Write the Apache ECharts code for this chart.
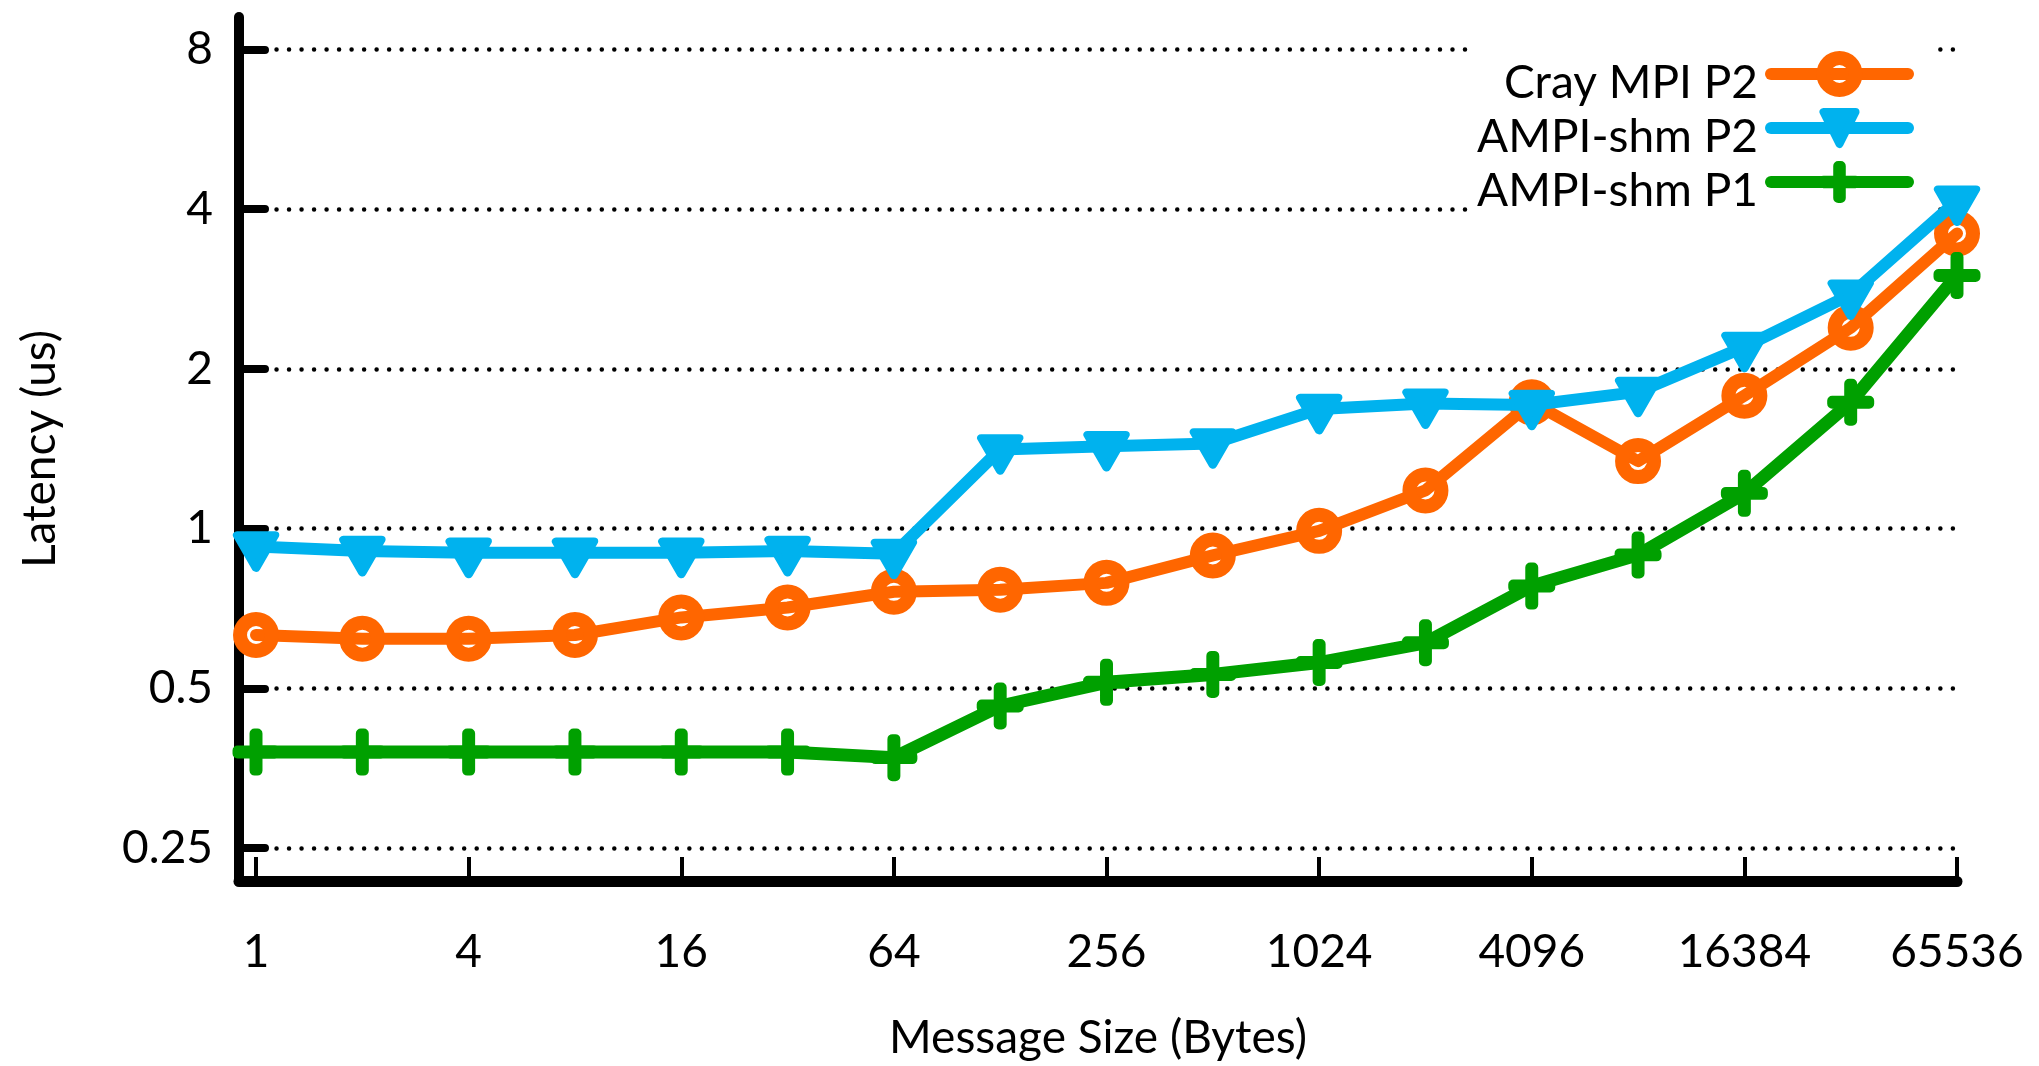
<!DOCTYPE html>
<html>
<head>
<meta charset="utf-8">
<script src="https://cdn.jsdelivr.net/npm/echarts@6/dist/echarts.min.js"></script>
<style>
  html, body { margin: 0; padding: 0; background: #ffffff; }
  #chart { width: 2039px; height: 1066px; }
</style>
</head>
<body>
<div id="chart"></div>
<script>
// Message sizes in bytes (powers of two)
const messageSizes = [1, 2, 4, 8, 16, 32, 64, 128, 256, 512, 1024, 2048, 4096, 8192, 16384, 32768, 65536];

// One-way latency in microseconds
const crayMpiP2 = [0.63, 0.62, 0.62, 0.63, 0.68, 0.71, 0.76, 0.767, 0.79, 0.89, 0.99, 1.18, 1.73, 1.34, 1.78, 2.39, 3.6];
const ampiShmP2 = [0.925, 0.907, 0.90, 0.90, 0.90, 0.907, 0.896, 1.41, 1.43, 1.447, 1.68, 1.72, 1.71, 1.81, 2.2, 2.76, 4.15];
const ampiShmP1 = [0.379, 0.379, 0.379, 0.379, 0.379, 0.379, 0.370, 0.463, 0.513, 0.531, 0.559, 0.609, 0.779, 0.892, 1.165, 1.73, 3.0];

const seriesNames = ['Cray MPI P2', 'AMPI-shm P2', 'AMPI-shm P1'];

// Axis tick positions
const xTickValues = [1, 4, 16, 64, 256, 1024, 4096, 16384, 65536];
const yTickValues = [0.25, 0.5, 1, 2, 4, 8];

const FONT = 'Lato';
const FONT_SIZE = 46;
const ORANGE = '#ff6600';
const BLUE = '#00b2ee';
const GREEN = '#00a000';

const pairs = (ys) => messageSizes.map((x, i) => [x, ys[i]]);

// Plus sign with thin arms; the rounded border gives it its stroke weight
const PLUS = 'path://M4.6,0H5.4V4.6H10V5.4H5.4V10H4.6V5.4H0V4.6H4.6Z';

const chart = echarts.init(document.getElementById('chart'), null, { renderer: 'canvas' });

chart.setOption({
  animation: false,
  backgroundColor: '#ffffff',
  textStyle: { fontFamily: FONT },
  grid: { left: 239, right: 82, top: 17, bottom: 182, containLabel: false },
  legend: {
    orient: 'vertical',
    align: 'right',
    right: 109,
    top: 29,
    padding: [18, 16, 0, 8],
    itemWidth: 137,
    itemHeight: 40,
    itemGap: -5,
    backgroundColor: '#ffffff',
    selectedMode: false,
    z: 1,
    lineStyle: { width: 12, cap: 'round' },
    // a thin spacer line above each name sits the text a little below its key line
    formatter: (name) => '{gap| }\n{txt|' + name + '}',
    textStyle: {
      fontFamily: FONT, fontSize: FONT_SIZE, color: '#000000',
      padding: [0, 8, 0, 0],
      rich: {
        gap: { fontSize: 8, lineHeight: 18 },
        txt: { fontFamily: FONT, fontSize: FONT_SIZE, lineHeight: 46, color: '#000000' }
      }
    },
    data: [
      { name: seriesNames[0], itemStyle: { borderWidth: 14 } },
      { name: seriesNames[1], itemStyle: { borderWidth: 8 } },
      { name: seriesNames[2], itemStyle: { borderWidth: 10 } }
    ]
  },
  xAxis: {
    type: 'log',
    logBase: 2,
    min: 0.895,
    max: 65536,
    name: 'Message Size (Bytes)',
    nameLocation: 'middle',
    nameGap: 134,
    nameTextStyle: { fontFamily: FONT, fontSize: FONT_SIZE, color: '#000000' },
    axisLine: { show: true, lineStyle: { color: '#000000', width: 11, cap: 'round' } },
    axisTick: {
      show: true, inside: true, length: 24,
      customValues: xTickValues,
      lineStyle: { color: '#000000', width: 4 }
    },
    axisLabel: {
      customValues: xTickValues,
      margin: 48,
      fontFamily: FONT, fontSize: FONT_SIZE, color: '#000000',
      formatter: (v) => String(Math.round(v))
    },
    splitLine: { show: false },
    minorTick: { show: false },
    minorSplitLine: { show: false }
  },
  yAxis: {
    type: 'log',
    logBase: 2,
    min: 0.2166,
    max: 9.21,
    name: 'Latency (us)',
    nameLocation: 'middle',
    nameGap: 176,
    nameTextStyle: { fontFamily: FONT, fontSize: FONT_SIZE, color: '#000000' },
    axisLine: { show: true, lineStyle: { color: '#000000', width: 10, cap: 'round' } },
    axisTick: {
      show: true, inside: true, length: 26,
      customValues: yTickValues,
      lineStyle: { color: '#000000', width: 8, cap: 'round' }
    },
    axisLabel: {
      customValues: yTickValues,
      margin: 26,
      fontFamily: FONT, fontSize: FONT_SIZE, color: '#000000',
      formatter: (v) => String(+v.toFixed(2))
    },
    splitLine: {
      show: true,
      lineStyle: { color: '#000000', width: 4.5, type: [0.01, 12.5], cap: 'round' }
    },
    minorTick: { show: false },
    minorSplitLine: { show: false }
  },
  series: [
    {
      name: seriesNames[0],
      type: 'line',
      data: pairs(crayMpiP2),
      z: 2,
      symbol: 'circle',
      symbolSize: 32,
      lineStyle: { color: ORANGE, width: 12, cap: 'round', join: 'round' },
      itemStyle: { color: 'rgba(255,255,255,0)', borderColor: ORANGE, borderWidth: 14 }
    },
    {
      name: seriesNames[1],
      type: 'line',
      data: pairs(ampiShmP2),
      z: 3,
      symbol: 'triangle',
      symbolRotate: 180,
      symbolSize: [38, 33],
      symbolOffset: [0, 5],
      lineStyle: { color: BLUE, width: 12, cap: 'round', join: 'round' },
      itemStyle: { color: BLUE, borderColor: BLUE, borderWidth: 8, borderJoin: 'round' }
    },
    {
      name: seriesNames[2],
      type: 'line',
      data: pairs(ampiShmP1),
      z: 4,
      symbol: PLUS,
      symbolSize: 37,
      lineStyle: { color: GREEN, width: 13, cap: 'round', join: 'round' },
      itemStyle: { color: GREEN, borderColor: GREEN, borderWidth: 10, borderJoin: 'round' }
    }
  ]
});
</script>
</body>
</html>
